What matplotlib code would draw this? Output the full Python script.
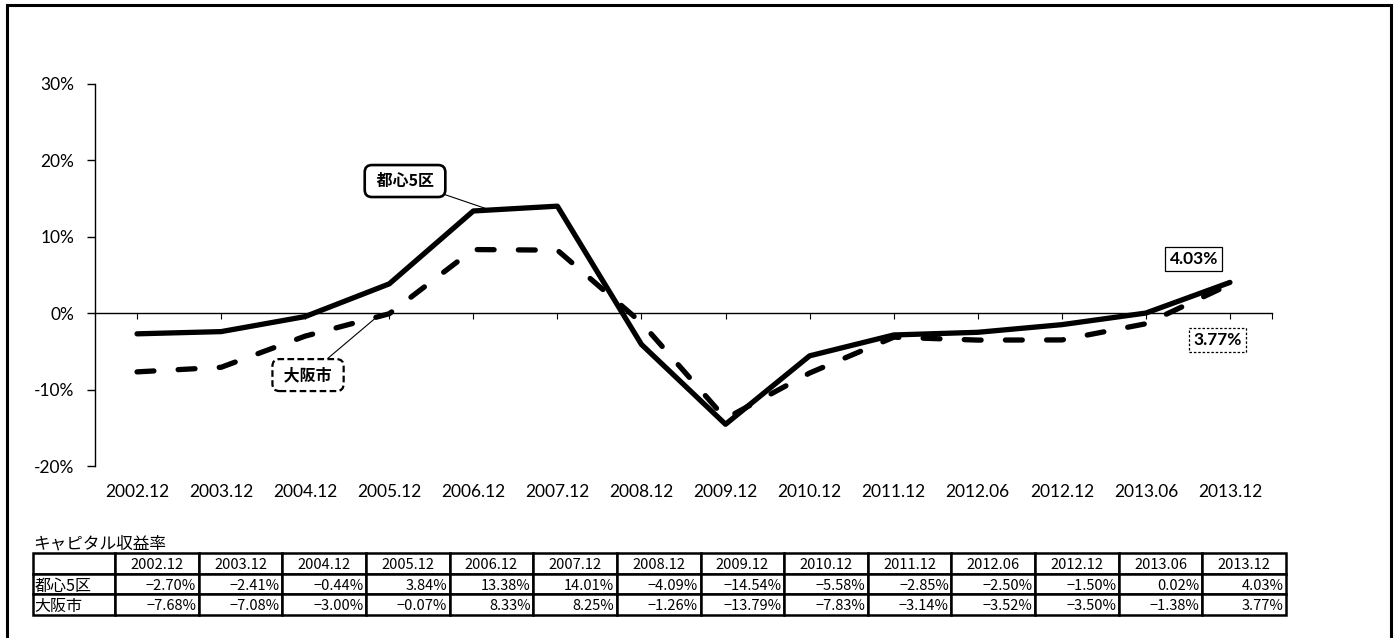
import matplotlib
matplotlib.use("Agg")
import matplotlib.pyplot as plt
from matplotlib.patches import Rectangle

# ---- data ----
periods = ["2002.12", "2003.12", "2004.12", "2005.12", "2006.12", "2007.12", "2008.12",
           "2009.12", "2010.12", "2011.12", "2012.06", "2012.12", "2013.06", "2013.12"]
tokyo5 = [-2.70, -2.41, -0.44, 3.84, 13.38, 14.01, -4.09, -14.54, -5.58, -2.85, -2.50, -1.50, 0.02, 4.03]
osaka = [-7.68, -7.08, -3.00, -0.07, 8.33, 8.25, -1.26, -13.79, -7.83, -3.14, -3.52, -3.50, -1.38, 3.77]
series_names = ["都心5区", "大阪市"]
yticks = [-20, -10, 0, 10, 20, 30]
table_title = "キャピタル収益率"

JP = ["Noto Sans CJK JP", "DejaVu Sans"]
LAT = ["Lato", "DejaVu Sans"]

W, H = 1398, 638
fig = plt.figure(figsize=(W / 100, H / 100), dpi=100)
fig.patch.set_facecolor("white")

# outer frame
fig.patches.append(Rectangle((7 / W, -0.02), 1384 / W, (H - 5) / H + 0.02,
                             transform=fig.transFigure, fill=False, lw=2.2,
                             edgecolor="black", zorder=10))

ax = fig.add_axes([95 / W, 1 - 466 / H, (1272 - 95) / W, (466 - 84) / H])
x = list(range(len(periods)))
ax.plot(x, tokyo5, color="black", lw=3.8, solid_capstyle="round", solid_joinstyle="round", zorder=3)
ax.plot(x, osaka, color="black", lw=3.8, dashes=(3.2, 4.6), dash_capstyle="round",
        dash_joinstyle="round", zorder=3)

ax.set_xlim(-0.5, len(periods) - 0.5)
ax.set_ylim(-20, 30)
ax.set_yticks(yticks)
ax.set_yticklabels([f"{v}%" for v in yticks], fontsize=12.5, family=LAT)
ax.tick_params(axis="y", direction="out", length=6, width=1, pad=9)

for s in ["top", "right"]:
    ax.spines[s].set_visible(False)
ax.spines["left"].set_linewidth(1)
ax.spines["bottom"].set_position(("data", 0))
ax.spines["bottom"].set_linewidth(1)
ax.set_xticks(x + [len(periods) - 0.5])
ax.tick_params(axis="x", direction="out", length=4, width=0.8, labelbottom=False)

sec = ax.secondary_xaxis(location=0)
sec.set_xticks(x)
sec.set_xticklabels(periods, fontsize=12.5, family=LAT)
sec.tick_params(length=0, pad=13)
sec.spines["bottom"].set_visible(False)

# series callouts
t = 0.2
ax.annotate(f" {series_names[0]} ", xy=(4 + t, tokyo5[4] + t * (tokyo5[5] - tokyo5[4])),
            xytext=(0.2634, 0.746), textcoords="axes fraction", ha="center", va="center",
            fontsize=11.5, fontweight="bold", family=JP,
            bbox=dict(boxstyle="round,pad=0.5,rounding_size=0.45", fc="white", ec="black", lw=1.9),
            arrowprops=dict(arrowstyle="-", lw=0.8, color="black", shrinkA=0, shrinkB=0))
t2 = 0.85
ax.annotate(f" {series_names[1]} ", xy=(2 + t2, osaka[2] + t2 * (osaka[3] - osaka[2])),
            xytext=(0.181, 0.238), textcoords="axes fraction", ha="center", va="center",
            fontsize=11.5, fontweight="bold", family=JP,
            bbox=dict(boxstyle="round,pad=0.5,rounding_size=0.45", fc="white", ec="black",
                      lw=1.6, ls=(0, (3, 1.5))),
            arrowprops=dict(arrowstyle="-", lw=0.8, color="black", shrinkA=0, shrinkB=0))

# end value labels
ax.text(0.9337, 0.542, f"{tokyo5[-1]:.2f}%", transform=ax.transAxes, ha="center", va="center",
        fontsize=12.5, fontweight="bold", family=LAT,
        bbox=dict(boxstyle="square,pad=0.25", fc="white", ec="black", lw=0.9))
ax.text(0.9537, 0.330, f"{osaka[-1]:.2f}%", transform=ax.transAxes, ha="center", va="center",
        fontsize=12.5, fontweight="bold", family=LAT,
        bbox=dict(boxstyle="square,pad=0.25", fc="white", ec="black", lw=0.9, ls=(0, (2, 1.5))))

# ---- table ----
tx0, tx1, ty0, ty1 = 33, 1286, 553, 615
tax = fig.add_axes([tx0 / W, 1 - ty1 / H, (tx1 - tx0) / W, (ty1 - ty0) / H])
tax.axis("off")

def fmt(v):
    s = f"{abs(v):.2f}%"
    return ("\u2212" + s) if v < 0 else s

cell_text = [[""] + periods,
             [series_names[0]] + [fmt(v) for v in tokyo5],
             [series_names[1]] + [fmt(v) for v in osaka]]
first_w = 82.0
col_w = (tx1 - tx0 - first_w) / len(periods)
widths = [first_w / (tx1 - tx0)] + [col_w / (tx1 - tx0)] * len(periods)
tbl = tax.table(cellText=cell_text, colWidths=widths, bbox=[0, 0, 1, 1], cellLoc="right")
tbl.auto_set_font_size(False)
for (r, c), cell in tbl.get_celld().items():
    cell.set_linewidth(1.8)
    cell.set_edgecolor("black")
    cell.PAD = 0.03
    txt = cell.get_text()
    txt.set_fontsize(10.5)
    txt.set_family(JP)
    txt.set_va("center_baseline")
    if r == 0:
        txt.set_ha("center")
    elif c == 0:
        txt.set_ha("left")
        cell.PAD = 0.02
        txt.set_fontsize(11.5)
    else:
        txt.set_ha("right")

fig.text(tx0 / W, 1 - 552 / H, table_title, ha="left", va="bottom", fontsize=12, family=JP)

fig.savefig("out.png", dpi=100)
